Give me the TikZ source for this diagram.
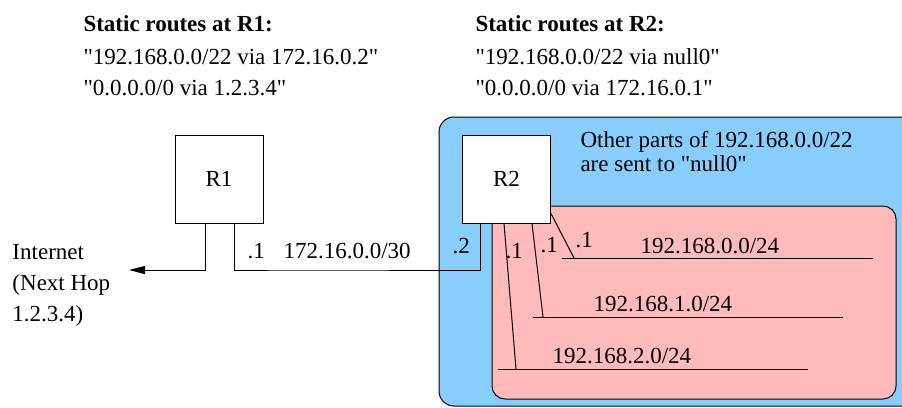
\documentclass[tikz,border=0pt]{standalone}
\usepackage{fontspec}
\setmainfont{Liberation Serif}
\usetikzlibrary{arrows.meta,calc}
\definecolor{netblue}{RGB}{135,206,255}
\definecolor{netpink}{RGB}{255,187,187}

\begin{document}
\begin{tikzpicture}[x=1pt, y=-1pt, line width=1pt, >={Triangle[length=16pt,width=8pt]},
    font=\fontsize{23}{27}\selectfont,
    router/.style={draw, fill=white, minimum width=88pt, minimum height=88pt, inner sep=0pt},
    txt/.style={anchor=base west, inner sep=0pt},
    head/.style={txt, font=\fontsize{23}{27}\selectfont\bfseries}]
    \useasboundingbox (0,0) rectangle (902,407);
    \clip (0,0) rectangle (902,407);

    % Bereiche hinter R2
    \draw[fill=netblue, rounded corners=15pt] (439,117) rectangle (930,406);
    \draw[fill=netpink, rounded corners=13pt] (492,206) rectangle (896,399);

    % statische Routen
    \node[head] (h1) at (83,31) {Static routes at R1:};
    \node[txt] (h1a) at (83,64) {\textquotedbl192.168.0.0/22 via 172.16.0.2\textquotedbl};
    \node[txt] (h1b) at (83,95) {\textquotedbl0.0.0.0/0 via 1.2.3.4\textquotedbl};
    \node[head] (h2) at (475,31) {Static routes at R2:};
    \node[txt] (h2a) at (475,64) {\textquotedbl192.168.0.0/22 via null0\textquotedbl};
    \node[txt] (h2b) at (475,95) {\textquotedbl0.0.0.0/0 via 172.16.0.1\textquotedbl};

    % Router
    \node[router] (R1) at (219,179) {R1};
    \node[router] (R2) at (506.5,179) {R2};

    % Internet
    \node[txt] (inet) at (12,259) {Internet};
    \node[txt] (inet2) at (12,290) {(Next Hop};
    \node[txt] (inet3) at (12,321) {1.2.3.4)};
    \coordinate (hop) at (129,270);
    \draw[->] ($(R1.south)+(-14,0)$) |- (hop);

    % Transfernetz
    \coordinate (link) at (300,270);
    \draw ($(R1.south)+(15,0)$) |- (link) -| ($(R2.south)+(-26.5,0)$);
    \node[txt] (ip1) at (247,258) {.1};
    \node[txt] (tnet) at (283,258) {172.16.0.0/30};
    \node[txt] (ip2) at (452,253) {.2};

    \node[txt] (null) at (580,147) {Other parts of 192.168.0.0/22};
    \node[txt] (null2) at (580,171) {are sent to \textquotedbl null0\textquotedbl};

    % Subnetze
    \coordinate (s0a) at (562,258); \coordinate (s0b) at (873,258); \coordinate (s0p) at (574,258);
    \coordinate (s1a) at (533,317); \coordinate (s1b) at (843,317); \coordinate (s1p) at (543,317);
    \coordinate (s2a) at (498,369); \coordinate (s2b) at (808,369); \coordinate (s2p) at (516,369);
    \foreach \s in {s0,s1,s2} {
        \draw (\s a) -- (\s b);
    }
    \draw ($(R2.south east)+(0,-10)$) -- (s0p);
    \draw ($(R2.south)+(25.5,0)$) -- (s1p);
    \draw ($(R2.south)+(-2.5,0)$) -- (s2p);
    \node[txt] (g0) at (575,247) {.1};
    \node[txt] (g1) at (540,252) {.1};
    \node[txt] (g2) at (505,258) {.1};
    \node[txt] (n0) at (640,253) {192.168.0.0/24};
    \node[txt] (n1) at (593,311) {192.168.1.0/24};
    \node[txt] (n2) at (552,363) {192.168.2.0/24};
\end{tikzpicture}
\end{document}
